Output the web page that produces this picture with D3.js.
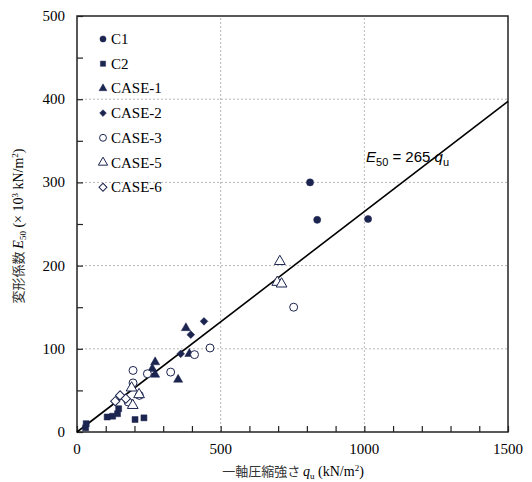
<!DOCTYPE html>
<html>
<head>
<meta charset="utf-8">
<script src="https://cdn.jsdelivr.net/npm/d3@7"></script>
<style>
  body { margin: 0; background: #fff; }
  svg text { font-family: "Liberation Serif", "Tinos", "DejaVu Serif", "Times New Roman", serif; }
  svg text.eq { font-family: "Liberation Sans", Arial, sans-serif; }
  svg tspan.jp { font-family: "Noto Sans CJK JP", sans-serif; }
  .grid line { stroke: #b8b8b8; stroke-dasharray: 2,2; stroke-width: 1; }
</style>
</head>
<body>
<svg id="chart" width="532" height="482"></svg>
<script>
// データ (q_u, E50)
const c1 = [[811, 300], [836, 255], [1013, 256]];
const c2 = [[30, 5], [32, 10], [105, 18], [124, 19], [141, 22], [145, 28], [202, 15], [233, 17]];
const case1 = [[379, 125], [391, 94], [272, 84], [262, 76], [272, 69], [352, 63]];
const case2 = [[442, 133], [396, 117], [361, 94]];
const case3 = [[463, 101], [409, 93], [326, 72], [245, 70], [195, 74], [195, 59], [178, 36], [217, 44], [754, 150]];
const case5 = [[190, 53], [216, 45], [194, 32], [706, 205], [697, 180], [712, 178]];
const case6 = [[133, 37], [150, 44], [170, 40]];
const slope = 265;
const xTicks = [0, 500, 1000, 1500];
const yTicks = [0, 100, 200, 300, 400, 500];

const series = [
  {name: "C1", data: c1, shape: d3.symbolCircle, size: 40, fill: true, rot: 0},
  {name: "C2", data: c2, shape: d3.symbolSquare, size: 36, fill: true, rot: 0},
  {name: "CASE-1", data: case1, shape: d3.symbolTriangle, size: 36, fill: true, rot: 0},
  {name: "CASE-2", data: case2, shape: d3.symbolSquare, size: 30, fill: true, rot: 45},
  {name: "CASE-3", data: case3, shape: d3.symbolCircle, size: 50, fill: false, rot: 0},
  {name: "CASE-5", data: case5, shape: d3.symbolTriangle, size: 50, fill: false, rot: 0},
  {name: "CASE-6", data: case6, shape: d3.symbolSquare, size: 42, fill: false, rot: 45}
];

const navy = "#1c2450";
const svg = d3.select("#chart");
const x = d3.scaleLinear().domain([0, 1500]).range([77, 508]);
const y = d3.scaleLinear().domain([0, 500]).range([432, 16]);

// グリッド
const grid = svg.append("g").attr("class", "grid");
grid.selectAll(".gx").data([500, 1000]).enter().append("line")
  .attr("x1", d => x(d)).attr("x2", d => x(d))
  .attr("y1", y(0)).attr("y2", y(500));
grid.selectAll(".gy").data([100, 200, 300, 400]).enter().append("line")
  .attr("x1", x(0)).attr("x2", x(1500))
  .attr("y1", d => y(d)).attr("y2", d => y(d));

// 枠
svg.append("rect")
  .attr("x", x(0)).attr("y", y(500))
  .attr("width", x(1500) - x(0)).attr("height", y(0) - y(500))
  .attr("fill", "none").attr("stroke", "#222").attr("stroke-width", 1.5);

// 軸
const xAxis = svg.append("g").attr("transform", `translate(0,${y(0)})`)
  .call(d3.axisBottom(x).tickValues(d3.range(0, 1501, 100)).tickSize(-6).tickFormat(""));
const yAxis = svg.append("g").attr("transform", `translate(${x(0)},0)`)
  .call(d3.axisLeft(y).tickValues(d3.range(0, 501, 50)).tickSize(-6).tickFormat(""));
[xAxis, yAxis].forEach(a => {
  a.select(".domain").remove();
  a.selectAll("line").attr("stroke", "#222").attr("stroke-width", 1.2);
});

svg.selectAll(".xl").data(xTicks).enter().append("text")
  .attr("x", d => x(d)).attr("y", 454)
  .attr("text-anchor", "middle").attr("font-size", 15).text(d => d);
svg.selectAll(".yl").data(yTicks).enter().append("text")
  .attr("x", 65).attr("y", d => y(d) + 5)
  .attr("text-anchor", "end").attr("font-size", 15).text(d => d);

// 近似直線
svg.append("line")
  .attr("x1", x(0)).attr("y1", y(0))
  .attr("x2", x(1500)).attr("y2", y(1500 * slope / 1000))
  .attr("stroke", "#000").attr("stroke-width", 1.6);

// 点
series.forEach(s => {
  const sym = d3.symbol().type(s.shape).size(s.size);
  svg.append("g").selectAll("path").data(s.data).enter().append("path")
    .attr("d", sym)
    .attr("transform", d => `translate(${x(d[0])},${y(d[1])}) rotate(${s.rot})`)
    .attr("fill", s.fill ? navy : "#fff")
    .attr("stroke", navy).attr("stroke-width", s.fill ? 0.5 : 1);
});

// 凡例
const leg = svg.append("g");
series.forEach((s, i) => {
  const ly = 39 + i * 24.7;
  leg.append("path")
    .attr("d", d3.symbol().type(s.shape).size(s.size * 0.75)())
    .attr("transform", `translate(103,${ly}) rotate(${s.rot})`)
    .attr("fill", s.fill ? navy : "#fff")
    .attr("stroke", navy).attr("stroke-width", s.fill ? 0.5 : 1);
  leg.append("text").attr("x", 111).attr("y", ly + 5)
    .attr("font-size", 15).text(s.name);
});

// 式
const eq = svg.append("text").attr("class", "eq").attr("x", 366).attr("y", 162)
  .attr("font-size", 15);
eq.append("tspan").attr("font-style", "italic").text("E");
eq.append("tspan").attr("font-size", 11).attr("dy", 4).text("50");
eq.append("tspan").attr("dy", -4).text(" = 265 ");
eq.append("tspan").attr("font-style", "italic").text("q");
eq.append("tspan").attr("font-size", 11).attr("dy", 4).text("u");

// 軸タイトル
const xt = svg.append("text").attr("x", 293).attr("y", 476)
  .attr("text-anchor", "middle").attr("font-size", 14);
xt.append("tspan").attr("class", "jp").attr("font-size", 13).attr("fill", "#333").text("一軸圧縮強さ ");
xt.append("tspan").attr("font-style", "italic").text("q");
xt.append("tspan").attr("font-size", 9).attr("dy", 3).text("u");
xt.append("tspan").attr("dy", -3).text(" (kN/m");
xt.append("tspan").attr("font-size", 9).attr("dy", -5).text("2");
xt.append("tspan").attr("dy", 5).text(")");

const yt = svg.append("text").attr("transform", "translate(23,226) rotate(-90)")
  .attr("text-anchor", "middle").attr("font-size", 14);
yt.append("tspan").attr("class", "jp").attr("font-size", 13).attr("fill", "#333").text("変形係数 ");
yt.append("tspan").attr("font-style", "italic").text("E");
yt.append("tspan").attr("font-size", 9).attr("dy", 3).text("50");
yt.append("tspan").attr("dy", -3).text(" (× 10");
yt.append("tspan").attr("font-size", 9).attr("dy", -5).text("3");
yt.append("tspan").attr("dy", 5).text(" kN/m");
yt.append("tspan").attr("font-size", 9).attr("dy", -5).text("2");
yt.append("tspan").attr("dy", 5).text(")");
</script>
</body>
</html>
